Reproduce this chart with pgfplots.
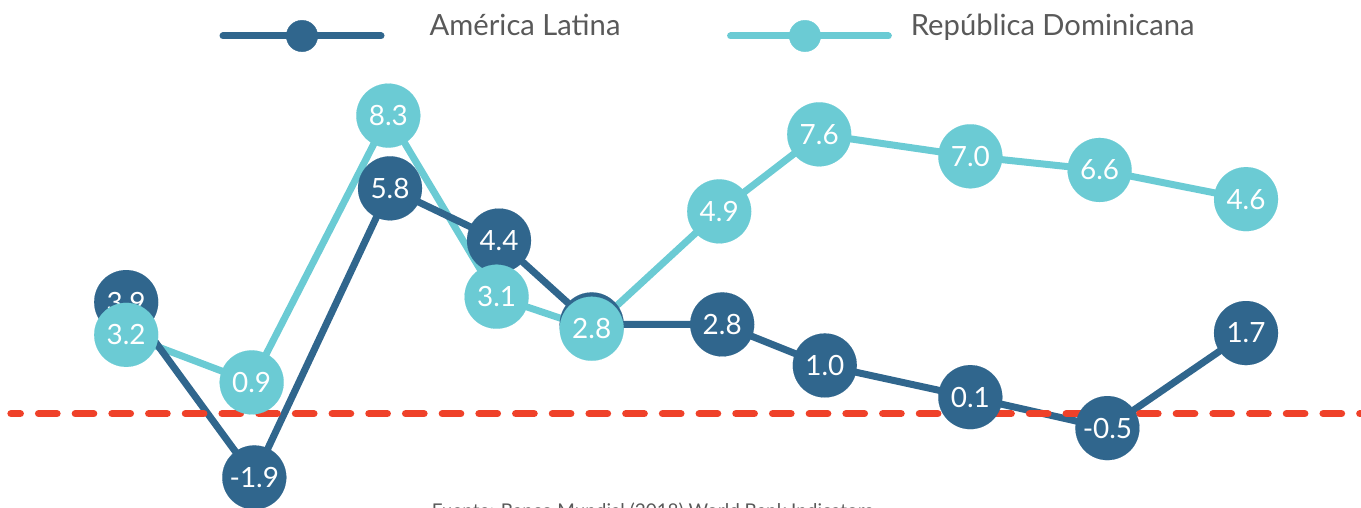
\documentclass[border=0pt]{standalone}
\usepackage{fontspec}
\setmainfont{Lato}
\usepackage{pgfplots}
\pgfplotsset{compat=1.18}
\usepackage{pgfplotstable}
\definecolor{al}{HTML}{30668D}
\definecolor{rd}{HTML}{6BCBD4}
\definecolor{rojo}{HTML}{EF4129}
\definecolor{gris}{HTML}{595959}

% x = horizontal position, y = height, lab = printed value
% (the fifth América Latina bubble is hidden behind the República Dominicana one)
\pgfplotstableread{
x      y      lab
126.2  3.10   3.9
254.3  -1.77  -1.9
390.0  6.26   5.8
499.0  4.81   4.4
591.7  2.48   {}
722.2  2.48   2.8
824.8  1.34   1.0
970.3  0.46   0.1
1107.4 -0.40  -0.5
1246.0 2.24   1.7
}\tablAL

\pgfplotstableread{
x      y      lab
126.2  2.19   3.2
251.7  0.87   0.9
388.3  8.28   8.3
496.6  3.25   3.1
591.7  2.36   2.8
719.2  5.62   4.9
819.2  7.76   7.6
970.3  7.15   7.0
1099.6 6.77   6.6
1246.0 5.96   4.6
}\tablRD

\begin{document}
\begin{tikzpicture}
\useasboundingbox (0,0) rectangle (1361bp,508bp);
\begin{axis}[
  at={(0,0)}, anchor=south west,
  scale only axis, width=1361bp, height=508bp,
  xmin=0, xmax=1361, ymin=-2.6194, ymax=11.4917,
  axis lines=none, clip=false,
  legend columns=2,
  legend style={draw=none, fill=none, inner sep=0pt, outer sep=0pt,
    at={(axis cs:219.5,10.57)}, anchor=west,
    font=\fontsize{29.3}{30}\selectfont, text=gris,
    /tikz/column sep=0pt,
    nodes={inner sep=0pt, anchor=base west}},
]
% lines
\addplot[rd, line width=7bp, line join=round, forget plot] table[x=x,y=y] {\tablRD};
\addplot[al, line width=7bp, line join=round, forget plot] table[x=x,y=y] {\tablAL};
% zero line
\addplot[rojo, line width=7.3bp, line cap=round, dash pattern=on 18.4bp off 18.3bp, dash phase=9.1bp, forget plot]
  coordinates {(11,0) (1370,0)};
% bubbles with labels
\addplot[al, only marks, mark=*, mark size=32bp, mark options={draw=al, fill=al, line width=0.1pt},
  point meta=explicit symbolic,
  nodes near coords,
  every node near coord/.append style={anchor=center, text=white, inner sep=0pt,
    font=\fontsize{28}{28}\selectfont},
  legend image code/.code={
    \draw[al, line width=7bp, line cap=round] (0bp,0bp) -- (158bp,0bp);
    \fill[al] (79bp,0bp) circle (15.7bp);
    \path (206.5bp,0bp);
  }] table[x=x,y=y,meta=lab] {\tablAL};
\addlegendentry{América Latina}
\addplot[rd, only marks, mark=*, mark size=32bp, mark options={draw=rd, fill=rd, line width=0.1pt},
  point meta=explicit symbolic,
  nodes near coords,
  every node near coord/.append style={anchor=center, text=white, inner sep=0pt,
    font=\fontsize{28}{28}\selectfont},
  legend image code/.code={
    \path (-109.9bp,0bp);
    \draw[rd, line width=7bp, line cap=round] (0bp,0bp) -- (157.8bp,0bp);
    \fill[rd] (74.4bp,0bp) circle (15.7bp);
    \path (180.1bp,0bp);
  }] table[x=x,y=y,meta=lab] {\tablRD};
\addlegendentry{República Dominicana}
\end{axis}
\node[anchor=base west, text=gris, font=\fontsize{19}{20}\selectfont, inner sep=0pt]
  at (431.7bp,-9bp) {Fuente: Banco Mundial (2018) World Bank Indicators};
\end{tikzpicture}
\end{document}
